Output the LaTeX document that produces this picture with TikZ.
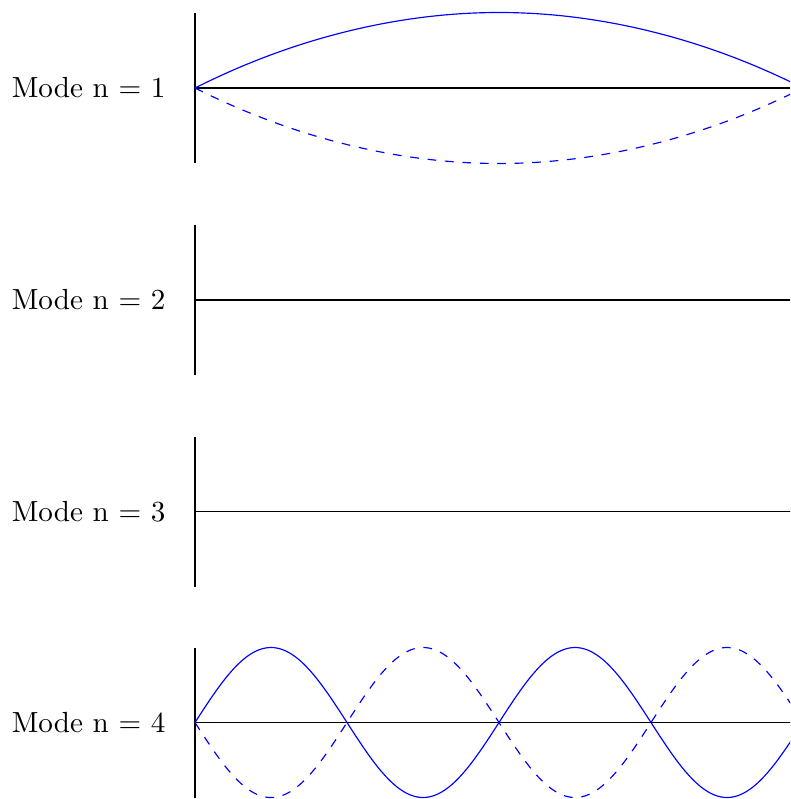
\documentclass[tikz,border=0pt]{standalone}
\begin{document}
\begin{tikzpicture}[x=0.3436pt,y=-0.3436pt,
  axisline/.style={black,line width=0.4pt},
  wave/.style={blue,line width=0.4pt},
  wavedash/.style={blue,line width=0.4pt,dashed},
  modelabel/.style={anchor=east,inner sep=0pt}]
\useasboundingbox (0,0) rectangle (790,799);
\clip (0,0) rectangle (790,799);
\def\L{608}
\def\A{75}
\foreach \n/\y in {1/88,2/300,3/511.7,4/722.5}{
  \coordinate (top\n) at (195,\y-\A);
  \coordinate (bot\n) at (195,\y+\A);
  \coordinate (start\n) at (195,\y);
  \coordinate (end\n) at (803,\y);
  \node[modelabel] (label\n) at (166,\y) {Mode n = \n};
  \draw[axisline] (top\n) -- (bot\n);
  \draw[axisline] (start\n) -- (end\n);
}
% mode 1 (parabolic arcs)
\draw[wave] (start1) parabola bend (499,12.5) (end1);
\draw[wavedash] (start1) parabola bend (499,163.5) (end1);
% mode 4
\draw[wave] plot[domain=195:803,samples=240,smooth] (\x,{722.5-\A*sin(720*((\x-195)/\L))});
\draw[wavedash] plot[domain=195:803,samples=240,smooth] (\x,{722.5+\A*sin(720*((\x-195)/\L))});
\end{tikzpicture}
\end{document}
